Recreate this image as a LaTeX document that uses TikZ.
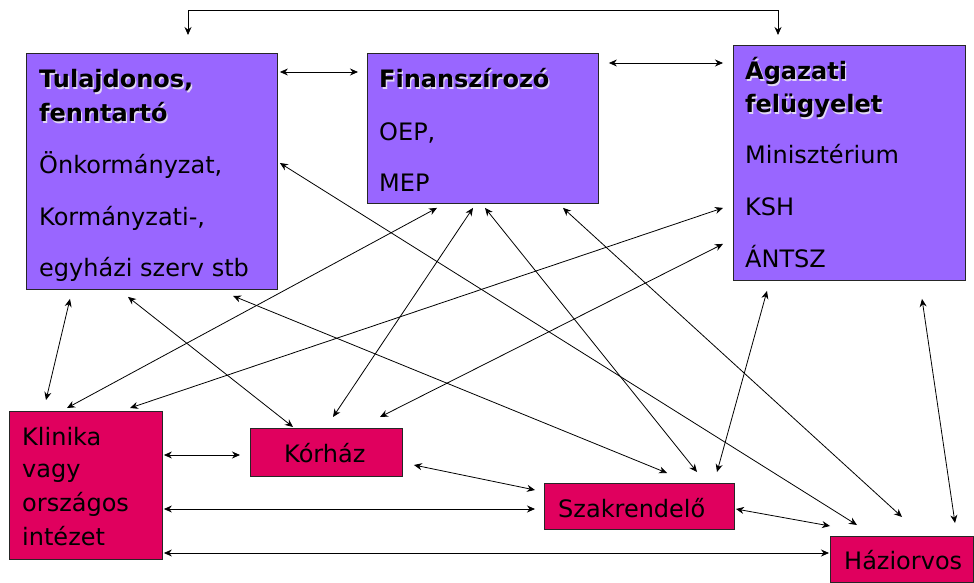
\documentclass[tikz,border=0pt]{standalone}
\usepackage{fontspec}
\setmainfont{DejaVu Sans}
\usetikzlibrary{arrows.meta}
\definecolor{boxpurple}{RGB}{153,102,255}
\definecolor{boxred}{RGB}{224,0,94}
\definecolor{shadowc}{RGB}{225,215,245}
\tikzset{
  pbox/.style={draw=black!85, line width=0.9pt, fill=boxpurple, anchor=north west, inner sep=0pt},
  rbox/.style={draw=black!85, line width=0.9pt, fill=boxred, anchor=north west, inner sep=0pt},
  txt/.style={anchor=base west, inner sep=0pt, font=\fontsize{24}{28}\selectfont},
  btxt/.style={anchor=base west, inner sep=0pt, font=\fontsize{24}{28}\selectfont\bfseries},
  arr/.style={line width=0.8pt, {Stealth[length=8pt,width=7pt]}-{Stealth[length=8pt,width=7pt]}},
  arrone/.style={line width=0.8pt, {Stealth[length=8pt,width=7pt]}-{Stealth[length=8pt,width=7pt]}}
}
\newcommand{\boldline}[3]{%
  \node[btxt, text=shadowc] at (#1+1.3,#2+1.3) {#3};
  \node[btxt] at (#1,#2) {#3};}
\begin{document}
\begin{tikzpicture}[x=1pt,y=-1pt]
\useasboundingbox (0,0) rectangle (974,583);
% boxes
\node[pbox, minimum width=251pt, minimum height=236pt] (tul) at (26,53) {};
\node[pbox, minimum width=231pt, minimum height=150pt] (fin) at (367,53) {};
\node[pbox, minimum width=232pt, minimum height=235pt] (aga) at (733,45) {};
\node[rbox, minimum width=153pt, minimum height=148pt] (kli) at (9,411) {};
\node[rbox, minimum width=152pt, minimum height=48pt] (kor) at (250,428) {};
\node[rbox, minimum width=190pt, minimum height=46pt] (sza) at (544,483) {};
\node[rbox, minimum width=143pt, minimum height=46pt] (haz) at (830,536) {};
% texts
\boldline{39}{88}{Tulajdonos,}
\boldline{39}{122}{fenntartó}
\node[txt] at (39,173) {Önkormányzat,};
\node[txt] at (39,225) {Kormányzati-,};
\node[txt] at (39,276) {egyházi szerv stb};
\boldline{379}{88}{Finanszírozó}
\node[txt] at (379,140) {OEP,};
\node[txt] at (379,191) {MEP};
\boldline{745}{80}{Ágazati}
\boldline{745}{113}{felügyelet}
\node[txt] at (745,164) {Minisztérium};
\node[txt] at (745,215) {KSH};
\node[txt] at (745,267) {ÁNTSZ};
\node[txt] at (22,445) {Klinika};
\node[txt] at (22,477) {vagy};
\node[txt] at (22,511) {országos};
\node[txt] at (22,545) {intézet};
\node[txt] at (284,462) {Kórház};
\node[txt] at (558,517) {Szakrendelő};
\node[txt] at (844,569) {Háziorvos};
% connectors
\draw[arr] ([shift={(162,-18)}]tul.north west) -- ++(0,-25) -| ([shift={(45,-10)}]aga.north west);
\draw[arr] ([shift={(2,19)}]tul.north east) -- ([shift={(-9,19)}]fin.north west);
\draw[arr] ([shift={(10,10)}]fin.north east) -- ([shift={(-10,18)}]aga.north west);
\draw[arr] ([shift={(2,110)}]tul.north east) -- ([shift={(27,-11)}]haz.north west);
\draw[arr] ([shift={(44,9)}]tul.south west) -- ([shift={(37,-11)}]kli.north west);
\draw[arr] ([shift={(102,7)}]tul.south west) -- ([shift={(43,-1)}]kor.north west);
\draw[arr] ([shift={(207,6)}]tul.south west) -- ([shift={(123,-10)}]sza.north west);
\draw[arr] ([shift={(70,4)}]fin.south west) -- ([shift={(58,-3)}]kli.north west);
\draw[arr] ([shift={(106,4)}]fin.south west) -- ([shift={(83,-11)}]kor.north west);
\draw[arr] ([shift={(118,4)}]fin.south west) -- ([shift={(153,-11)}]sza.north west);
\draw[arr] ([shift={(196,4)}]fin.south west) -- ([shift={(72,-19)}]haz.north west);
\draw[arr] ([shift={(-10,-73)}]aga.south west) -- ([shift={(121,-3)}]kli.north west);
\draw[arr] ([shift={(-10,-37)}]aga.south west) -- ([shift={(130,-11)}]kor.north west);
\draw[arr] ([shift={(34,10)}]aga.south west) -- ([shift={(173,-11)}]sza.north west);
\draw[arr] ([shift={(189,18)}]aga.south west) -- ([shift={(125,-13)}]haz.north west);
\draw[arr] ([shift={(1,44)}]kli.north east) -- ([shift={(-10,27)}]kor.north west);
\draw[arr] ([shift={(11,37)}]kor.north east) -- ([shift={(-9,7)}]sza.north west);
\draw[arr] ([shift={(1,98)}]kli.north east) -- ([shift={(-9,26)}]sza.north west);
\draw[arr] ([shift={(1,142)}]kli.north east) -- ([shift={(-1,17)}]haz.north west);
\draw[arr] ([shift={(1,26)}]sza.north east) -- ([shift={(0,-10)}]haz.north west);
\end{tikzpicture}
\end{document}
